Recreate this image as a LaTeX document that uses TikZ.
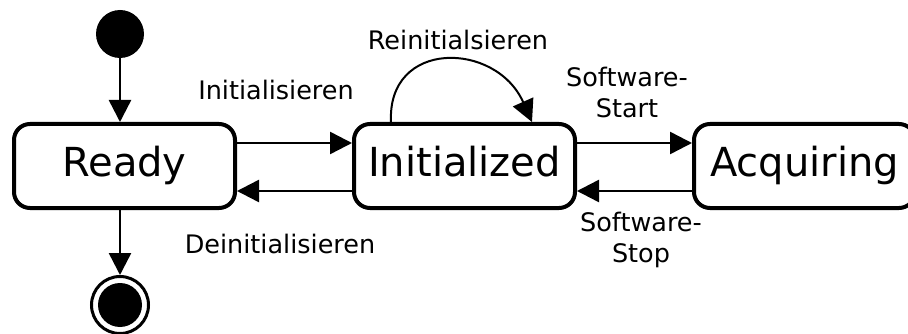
\documentclass[tikz,border=0pt]{standalone}
\usepackage{fontspec}
\setmainfont{DejaVu Sans}
\usetikzlibrary{arrows.meta}

\tikzset{
  state/.style={draw, line width=4pt, rounded corners=16pt, minimum width=221pt,
    minimum height=84pt, inner sep=4pt, text height=30pt, text depth=8pt,
    font=\fontsize{40}{48}\selectfont},
  trans/.style={line width=2.5pt, -{Triangle[length=22pt,width=22pt]}},
  lbl/.style={font=\fontsize{25.5}{31}\selectfont, align=center, anchor=base},
}

\begin{document}
\begin{tikzpicture}[x=1pt,y=-1pt]
    \useasboundingbox (0,0) rectangle (908,334);
    \clip (0,0) rectangle (908,334);

    % Pseudo states
    \node[circle, fill=black, minimum size=48pt, inner sep=0pt] (start) at (120,34) {};
    \node[circle, draw, line width=3pt, fill=white, minimum size=57pt, inner sep=0pt] (end) at (120,305) {};
    \fill (end.center) circle (22pt);

    % States
    \node[state] (ready) at (124.5,166) {Ready};
    \node[state] (init) at (464.5,166) {Initialized};
    \node[state] (acq) at (804.5,166) {Acquiring};

    % Transitions
    \draw[trans] (start) -- (start |- ready.north);
    \draw[trans] (ready.south -| end) -- (end);
    \draw[trans] ([yshift=23pt]ready.east) -- ([yshift=23pt]init.west);
    \draw[trans] ([yshift=-25pt]init.west) -- ([yshift=-25pt]ready.east);
    \draw[trans] ([yshift=23pt]init.east) -- ([yshift=23pt]acq.west);
    \draw[trans] ([yshift=-25pt]acq.west) -- ([yshift=-25pt]init.east);
    \draw[trans, line width=2pt] ([xshift=-73.5pt]init.north)
      .. controls +(-4,-83) and +(-36,-81) .. ([xshift=67.5pt]init.north);

    % Labels
    \node[lbl] (initlbl) at (276,100) {Initialisieren};
    \node[lbl] (deinitlbl) at (280,253) {Deinitialisieren};
    \node[lbl] (reinitlbl) at (458,50) {Reinitialsieren};
    \node[lbl] (startlbl) at (627,118) {Software-\\Start};
    \node[lbl] (stoplbl) at (641,262) {Software-\\Stop};
\end{tikzpicture}
\end{document}
